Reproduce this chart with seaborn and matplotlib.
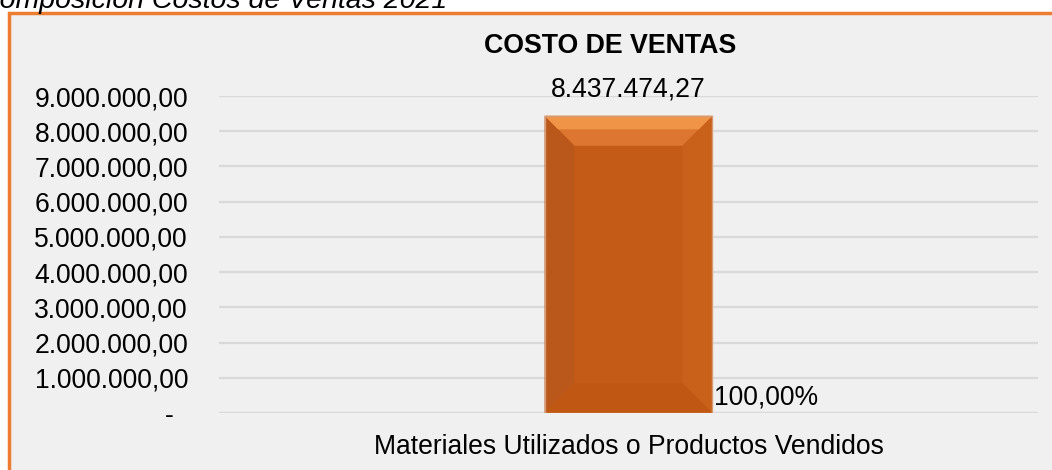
import numpy as np
import pandas as pd
import seaborn as sns
import matplotlib.pyplot as plt
from matplotlib.patches import Rectangle, Polygon
from matplotlib.ticker import FuncFormatter


# datos del grafico
categorias = ["Materiales Utilizados o Productos Vendidos"]
costos = [8437474.27]
porcentajes = [100.00]
y_ticks = [0, 1000000, 2000000, 3000000, 4000000, 5000000, 6000000, 7000000, 8000000, 9000000]

df = pd.DataFrame({"categoria": categorias, "costo": costos})


def fmt_es(v, dec=2):
    # formato 1.234.567,89
    s = f"{v:,.{dec}f}"
    return s.replace(",", "X").replace(".", ",").replace("X", ".")


def fmt_tick(v, pos):
    if v == 0:
        return "-  "
    return fmt_es(v)


sns.set_theme(style="white")
plt.rcParams["font.family"] = ["Liberation Sans", "DejaVu Sans"]

FS = 19.1
W, H = 1052, 470
fig = plt.figure(figsize=(W / 100, H / 100), dpi=100)
fig.patch.set_facecolor("white")

# marco naranja del grafico
marco = Rectangle((8.5 / W, -0.1), 1.2, (H - 12.5) / H + 0.1, transform=fig.transFigure,
                  facecolor="#F0F0F0", edgecolor="#ED7D31", linewidth=2.5, zorder=-5)
fig.patches.append(marco)

# texto cortado arriba (en la referencia tambien sale cortado)
fig.text(447 / W, 1 - 8 / H, "Composición Costos de Ventas 2021", ha="right", va="baseline",
         fontsize=20.5, style="italic", color="black")

ax = fig.add_axes([219 / W, 1 - 413 / H, (1038 - 219) / W, (413 - 96) / H])
ax.set_facecolor("none")
ax.set_zorder(2)

sns.barplot(data=df, x="categoria", y="costo", color="#C45C17", width=0.205, ax=ax,
            saturation=1, zorder=3)

ax.set_ylim(0, 9000000)
ax.set_xlim(-0.5, 0.5)
ax.set_yticks(y_ticks)
ax.yaxis.set_major_formatter(FuncFormatter(fmt_tick))
ax.grid(axis="y", color="#D9D9D9", linewidth=1.6, zorder=0)
ax.set_axisbelow(True)
for s in ax.spines.values():
    s.set_visible(False)
ax.axhline(0, color="#D9D9D9", linewidth=1.6, zorder=1)
ax.tick_params(axis="y", length=0, pad=22.3, labelsize=FS, labelcolor="black")
ax.tick_params(axis="x", length=0, pad=15, labelsize=FS, labelcolor="black")
ax.set_xlabel("")
ax.set_ylabel("")

# efecto bisel sobre la barra
p = ax.patches[0]
x0, w, h = p.get_x(), p.get_width(), p.get_height()
px_x = 1.0 / (1038 - 219)
px_y = 9000000 / (413 - 96)
bx = 30 * px_x
by = 30 * px_y
caras = [
    ([(x0, h), (x0 + w, h), (x0 + w - bx, h - by), (x0 + bx, h - by)], "#DD7630"),
    ([(x0, 0), (x0, h), (x0 + bx, h - by), (x0 + bx, by)], "#BA581B"),
    ([(x0 + w, 0), (x0 + w, h), (x0 + w - bx, h - by), (x0 + w - bx, by)], "#C9611A"),
    ([(x0, 0), (x0 + w, 0), (x0 + w - bx, by), (x0 + bx, by)], "#C05712"),
]
for pts, c in caras:
    ax.add_patch(Polygon(pts, closed=True, facecolor=c, edgecolor="none", zorder=4))
# brillo superior
ax.add_patch(Polygon([(x0, h), (x0 + w, h), (x0 + w - bx * 0.45, h - by * 0.45), (x0 + bx * 0.45, h - by * 0.45)],
                     closed=True, facecolor="#F09448", edgecolor="none", zorder=5))
ax.add_patch(Rectangle((x0, 0), w, h, facecolor="none", edgecolor="#D49A74", linewidth=1.0, zorder=6))

# etiquetas de datos
for i, (v, pc) in enumerate(zip(costos, porcentajes)):
    ax.annotate(fmt_es(v), xy=(i, v), xytext=(0, 9.5), textcoords="offset points",
                ha="center", va="bottom", fontsize=FS, color="black", annotation_clip=False)
    ax.annotate(fmt_es(pc) + "%", xy=(i + w / 2, 0), xytext=(1, 11.5), textcoords="offset points",
                ha="left", va="center", fontsize=FS, color="black", annotation_clip=False)

fig.text(610 / W, 1 - 46 / H, "COSTO DE VENTAS", ha="center", va="center",
         fontsize=19.3, fontweight="bold", color="black")

fig.savefig("out.png", dpi=100)
